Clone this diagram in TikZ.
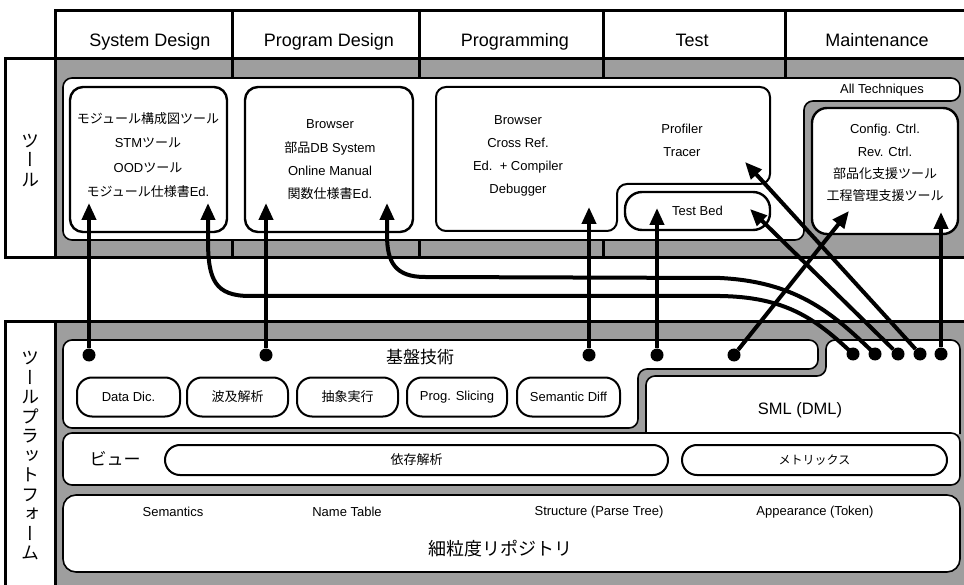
\documentclass[tikz,border=0pt]{standalone}
\usepackage{fontspec}
\setmainfont{Liberation Sans}
\newfontfamily\jp{Noto Sans CJK JP}
\newfontfamily\jpv[RawFeature=+vert]{Noto Sans CJK JP}
\usetikzlibrary{arrows.meta}
\definecolor{screen}{gray}{0.62}

\begin{document}
\begin{tikzpicture}[x=1pt,y=-1pt,
  frame/.style={line width=3pt, line cap=rect},
  panel/.style={fill=white, draw=black, line width=1.6pt, rounded corners=9pt},
  toolbox/.style={fill=white, draw=black, line width=2.4pt, rounded corners=13pt},
  pill/.style={draw=black, fill=white, line width=2pt, rounded corners=15pt, inner sep=0pt},
  lbl/.style={font=\fontsize{13}{15}\selectfont, align=center, inner sep=0pt},
  hdr/.style={font=\fontsize{18}{20}\selectfont, anchor=base, inner sep=0pt},
  vlabel/.style={font=\fontsize{18}{19.5}\selectfont\jpv, align=center, inner sep=0pt},
  dot/.style={circle, fill=black, inner sep=0pt, minimum size=13pt},
  link/.style={line width=4pt, -{Triangle[length=17pt,width=14pt]}},
]
\useasboundingbox (0,0) rectangle (964,585);
\fill[white] (0,0) rectangle (964,585);

% ---- shaded section backgrounds
\fill[screen] (55,59) rectangle (966,258);
\fill[screen] (55,322) rectangle (966,590);

% ---- header row and section frames
\draw[frame] (55,59) -- (55,11) -- (966,11);
\draw[frame] (5,59) -- (966,59);
\draw[frame] (5,258) -- (966,258);
\draw[frame] (5,59) -- (5,258);
\draw[frame] (55,59) -- (55,258);
\draw[frame] (5,322) -- (966,322);
\draw[frame] (5,322) -- (5,590);
\draw[frame] (55,322) -- (55,590);
\foreach \x in {232,419,603,785} \draw[frame] (\x,11) -- (\x,78);
\foreach \x in {232,419,603} \draw[frame] (\x,240) -- (\x,258);

\node[hdr] (h1) at (150,47) {System Design};
\node[hdr] (h2) at (329,47) {Program Design};
\node[hdr] (h3) at (515,47) {Programming};
\node[hdr] (h4) at (692,47) {Test};
\node[hdr] (h5) at (877,47) {Maintenance};

% ---- tools section
\node[vlabel] (toolsL) at (30,160) {ツ\\ー\\ル};
\draw[panel] (63,78) -- (960,78) -- (960,101) -- (804,101) -- (804,240) -- (63,240) -- cycle;
\draw[toolbox] (70,87) rectangle (227,232);
\draw[toolbox] (245,87) rectangle (413,232);
\draw[toolbox, line width=2pt, rounded corners=10pt] (436,87) -- (770,87) -- (770,184) -- (617,184) -- (617,231) -- (436,231) -- cycle;
\draw[toolbox, rounded corners=15pt] (812,108) rectangle (958,234);
\node[draw=black, fill=white, line width=2.4pt, rounded corners=17pt, minimum width=145pt,
      minimum height=38pt, inner sep=0pt, font=\fontsize{13}{15}\selectfont] (tb) at (697.5,211) {Test Bed};

\node[lbl, font=\fontsize{13}{24.6}\selectfont] (sd) at (148,155)
  {{\jp モジュール構成図ツール}\\STM{\jp ツール}\\OOD{\jp ツール}\\{\jp モジュール仕様書}Ed.};
\node[lbl, font=\fontsize{13}{23.3}\selectfont] (pd) at (330,160)
  {Browser\\{\jp 部品}DB System\\Online Manual\\{\jp 関数仕様書}Ed.};
\node[lbl, font=\fontsize{13}{23}\selectfont] (pg) at (518,156)
  {Browser\\Cross Ref.\\Ed.~~+ Compiler\\Debugger};
\node[lbl, font=\fontsize{13}{23}\selectfont] (pt) at (682,140) {Profiler\\Tracer};
\node[lbl] (allt) at (882,90) {All Techniques};
\node[lbl, font=\fontsize{13}{22.3}\selectfont] (mt) at (885,163)
  {Config. Ctrl.\\Rev. Ctrl.\\{\jp 部品化支援ツール}\\{\jp 工程管理支援ツール}};

% ---- platform section
\node[vlabel] (platL) at (30,456) {ツ\\ー\\ル\\プ\\ラ\\ッ\\ト\\フ\\ォ\\ー\\ム};
\draw[panel] (63,340) -- (818,340) -- (818,369) -- (638,369) -- (638,428) -- (63,428) -- cycle;
\draw[panel] (646,434) -- (646,376) -- (826,376) -- (826,340) -- (960,340) -- (960,434);
\draw[panel] (63,433) rectangle (960,485);
\draw[panel, rounded corners=13pt] (63,495) rectangle (960,572);

\node[lbl, font=\fontsize{17}{19}\selectfont\jp] (kiban) at (420,357) {基盤技術};
\node[pill, minimum width=103pt, minimum height=39pt, font=\fontsize{13}{15}\selectfont] (p1) at (128.5,397) {Data Dic.};
\node[pill, minimum width=101pt, minimum height=39pt, font=\fontsize{13}{15}\selectfont\jp] (p2) at (237.5,397) {波及解析};
\node[pill, minimum width=101pt, minimum height=39pt, font=\fontsize{13}{15}\selectfont\jp] (p3) at (347.5,397) {抽象実行};
\node[pill, minimum width=100pt, minimum height=39pt, font=\fontsize{13}{15}\selectfont] (p4) at (457,397) {Prog. Slicing};
\node[pill, minimum width=103pt, minimum height=39pt, font=\fontsize{13}{15}\selectfont] (p5) at (568.5,397) {Semantic Diff};
\node[lbl, font=\fontsize{16.5}{18}\selectfont] (sml) at (800,410) {SML (DML)};

\node[lbl, font=\fontsize{17}{19}\selectfont\jp] (view) at (115,459) {ビュー};
\node[pill, minimum width=503pt, minimum height=30pt, font=\fontsize{13}{15}\selectfont\jp] (dep) at (416.5,460) {依存解析};
\node[pill, minimum width=265pt, minimum height=30pt, font=\fontsize{12}{15}\selectfont\jp] (met) at (814.5,460) {メトリックス};

\node[lbl] (sem) at (173,512) {Semantics};
\node[lbl] (nt) at (347,512) {Name Table};
\node[lbl] (st) at (599,512) {Structure (Parse Tree)};
\node[lbl] (ap) at (815,512) {Appearance (Token)};
\node[lbl, font=\fontsize{18}{20}\selectfont\jp] (repo) at (500,549) {細粒度リポジトリ};

% ---- connectors
\node[dot] (d1) at (89,355) {};
\node[dot] (d2) at (266,355) {};
\node[dot] (d3) at (589,355) {};
\node[dot] (d4) at (657,355) {};
\node[dot] (d5) at (734,355) {};
\node[dot] (d6) at (853,354) {};
\node[dot] (d7) at (875,354) {};
\node[dot] (d8) at (898,354) {};
\node[dot] (d9) at (920,354) {};
\node[dot] (d10) at (941,354) {};

\coordinate (t1) at (89,203);
\coordinate (t2) at (266,203);
\coordinate (t3) at (589,207);
\coordinate (t4) at (657,208);
\coordinate (t5) at (849,211);
\coordinate (t6) at (208,203);
\coordinate (t7) at (387,203);
\coordinate (t8) at (750,209);
\coordinate (t9) at (745,162);
\coordinate (t10) at (941,212);

\draw[link] (d1) -- (t1);
\draw[link] (d2) -- (t2);
\draw[link] (d3) -- (t3);
\draw[link] (d4) -- (t4);
\draw[link] (d5) -- (t5);
\draw[link] (d6.center) .. controls (815,318) and (785,297) .. (720,296) -- (250,296)
  .. controls (215,296) and (208,280) .. (208,240) -- (t6);
\draw[link] (d7.center) .. controls (835,316) and (800,282) .. (720,278) -- (425,277)
  .. controls (395,277) and (387,262) .. (387,235) -- (t7);
\draw[link] (d8) -- (t8);
\draw[link] (d9) -- (t9);
\draw[link] (d10) -- (t10);
\end{tikzpicture}
\end{document}
